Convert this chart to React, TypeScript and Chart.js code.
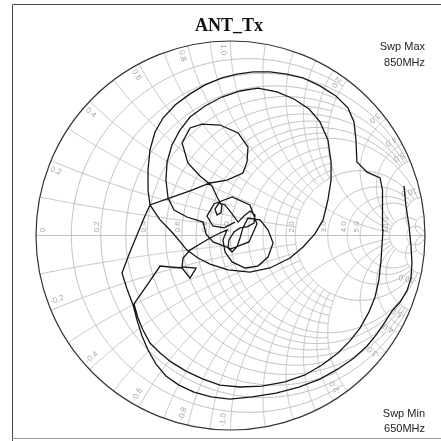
import { useEffect, useRef } from "react";
import { Chart, registerables } from "chart.js";

Chart.register(...registerables);

const chartTitle = "ANT_Tx";
const sweepMaxText = ["Swp Max", "850MHz"];
const sweepMinText = ["Swp Min", "650MHz"];

const gammaRe = [
  0.892, 0.902, 0.918, 0.928, 0.933, 0.928, 0.907, 0.872, 0.830, 0.794,
  0.753, 0.702, 0.635, 0.553, 0.460, 0.352, 0.234, 0.111, -0.003, -0.100,
  -0.188, -0.265, -0.332, -0.383, -0.424, -0.455, -0.481, -0.501, -0.532, -0.558,
  -0.517, -0.470, -0.440, -0.414, -0.311, -0.208, -0.105, -0.018, 0.064, 0.085,
  0.090, 0.039, -0.054, -0.147, -0.208, -0.249, -0.219, -0.157, -0.095,
  -0.069, -0.044, -0.049, -0.069, -0.080, -0.059, -0.028, 0.008, 0.039, 0.069,
  0.100, 0.126, 0.121, 0.085, 0.049, 0.018, -0.008, -0.013, 0.008, 0.033,
  0.049, 0.064,
  0.090, 0.152, 0.193, 0.219, 0.193, 0.141, 0.075, 0.008, -0.028, -0.039, -0.018,
  -0.054, -0.105, -0.157, -0.208, -0.244, -0.249, -0.177, -0.208, -0.249, -0.311, -0.362, -0.429, -0.496,
  -0.476, -0.450, -0.414, -0.362, -0.306, -0.229, -0.141, -0.054, 0.049, 0.162,
  0.280, 0.383, 0.470, 0.553, 0.614, 0.666, 0.712, 0.743, 0.763, 0.774,
  0.784, 0.784, 0.779, 0.769, 0.702, 0.650, 0.645, 0.635, 0.604, 0.542,
  0.460, 0.373, 0.290, 0.203, 0.116, 0.033, -0.044, -0.131, -0.208, -0.285,
  -0.347, -0.388, -0.414, -0.424, -0.424, -0.414,
  -0.362, -0.311, -0.275, -0.224, -0.167, -0.105, -0.013, 0.100, 0.203, 0.306,
  0.373, 0.434, 0.476, 0.501, 0.517, 0.517, 0.501, 0.460, 0.404, 0.326,
  0.239, 0.141, 0.049, -0.044, -0.131, -0.208, -0.260, -0.301, -0.326, -0.332,
  -0.321, -0.290, -0.224, -0.141,
  -0.126, -0.090, 0.003, 0.095, 0.136, 0.100, 0.008, -0.085, -0.121, -0.090, -0.033, 0.023,
];
const gammaIm = [
  0.255, 0.152, 0.049, -0.054, -0.141, -0.219, -0.285, -0.342, -0.388, -0.445,
  -0.506, -0.568, -0.630, -0.686, -0.738, -0.779, -0.810, -0.830, -0.841, -0.830,
  -0.805, -0.769, -0.722, -0.661, -0.589, -0.517, -0.434, -0.357, -0.275, -0.193,
  -0.085, 0.028, 0.100, 0.157, 0.193, 0.229, 0.270, 0.285, 0.321, 0.378,
  0.455, 0.527, 0.568, 0.573, 0.553, 0.476, 0.373, 0.306, 0.255,
  0.198, 0.152, 0.116, 0.105, 0.136, 0.167, 0.157, 0.111, 0.069, 0.100,
  0.126, 0.105, 0.064, 0.044, 0.039, 0.018, -0.023, -0.064, -0.085, -0.059,
  -0.013, 0.039,
  0.090, 0.080, 0.028, -0.039, -0.111, -0.157, -0.167, -0.136, -0.085, -0.023, 0.028,
  0.013, -0.013, -0.044, -0.075, -0.116, -0.162, -0.167, -0.219, -0.167, -0.162, -0.157, -0.255, -0.352,
  -0.424, -0.486, -0.553, -0.604, -0.650, -0.697, -0.738, -0.769, -0.779, -0.774,
  -0.753, -0.717, -0.666, -0.604, -0.542, -0.476, -0.393, -0.316, -0.229, -0.126,
  0.028, 0.157, 0.234, 0.296, 0.326, 0.378, 0.491, 0.584, 0.656, 0.717,
  0.769, 0.810, 0.830, 0.841, 0.841, 0.830, 0.810, 0.774, 0.728, 0.671,
  0.604, 0.532, 0.440, 0.337, 0.234, 0.157,
  0.080, 0.028, -0.013, -0.075, -0.116, -0.147, -0.177, -0.188, -0.167, -0.116,
  -0.059, 0.008, 0.080, 0.183, 0.285, 0.378, 0.491, 0.584, 0.650, 0.702,
  0.738, 0.758, 0.743, 0.712, 0.666, 0.609, 0.542, 0.465, 0.378, 0.285,
  0.193, 0.131, 0.095, 0.069,
  0.008, -0.033, -0.069, -0.033, 0.059, 0.157, 0.198, 0.162, 0.100, 0.049, 0.039, 0.069,
];

// Smith grid: [normalised value, extent of the other coordinate]
const resistanceGrid = [
  [0.1, 2], [0.2, 5], [0.3, 2], [0.4, 5], [0.5, 2], [0.6, 5], [0.7, 2], [0.8, 5], [0.9, 2],
  [1, 10], [1.2, 2], [1.4, 2], [1.6, 2], [1.8, 2], [2, 10], [3, 10], [4, 10], [5, 10],
  [10, 20], [20, Infinity],
];
const reactanceGrid = [
  [0.1, 1], [0.2, 2], [0.3, 1], [0.4, 2], [0.5, 1], [0.6, 2], [0.7, 1], [0.8, 2], [0.9, 1],
  [1, 10], [1.2, 2], [1.4, 2], [1.6, 2], [1.8, 2], [2, 10], [3, 10], [4, 10], [5, 10],
  [10, 20], [20, Infinity],
];
const resistanceLabels = [0, 0.2, 0.4, 0.6, 0.8, 1.0, 2.0, 3.0, 4.0, 5.0, 10.0];
const reactanceLabels = [0.2, 0.4, 0.6, 0.8, 1.0, 2.0, 3.0, 4.0, 5.0, 10.0];

function gammaOf(r: number, x: number) {
  const d = (r + 1) * (r + 1) + x * x;
  return [(r * r + x * x - 1) / d, (2 * x) / d];
}

const smithPlugin = {
  id: "smithGrid",
  beforeDraw(chart: any) {
    const ctx = chart.ctx;
    ctx.save();
    ctx.fillStyle = "#ffffff";
    ctx.fillRect(0, 0, chart.width, chart.height);
    ctx.lineWidth = 1;
    ctx.strokeStyle = "#4a4a4a";
    ctx.beginPath();
    ctx.moveTo(12.5, 441);
    ctx.lineTo(12.5, 4.5);
    ctx.lineTo(441, 4.5);
    ctx.stroke();
    ctx.strokeStyle = "#a0a0a0";
    ctx.beginPath();
    ctx.moveTo(12.5, 438.5);
    ctx.lineTo(441, 438.5);
    ctx.stroke();
    ctx.restore();
  },
  beforeDatasetsDraw(chart: any) {
    const ctx = chart.ctx;
    const sx = chart.scales.x;
    const sy = chart.scales.y;
    const P = (re: number, im: number) => [sx.getPixelForValue(re), sy.getPixelForValue(im)];
    const N = 260;
    ctx.save();
    ctx.strokeStyle = "#c2c2c2";
    ctx.lineWidth = 1;
    for (const [r, lim] of resistanceGrid) {
      const a = Math.atan(lim);
      ctx.beginPath();
      for (let i = 0; i <= N; i++) {
        const t = -a + (2 * a * i) / N;
        const [re, im] = gammaOf(r, Math.tan(t));
        const [px, py] = P(re, im);
        if (i === 0) ctx.moveTo(px, py);
        else ctx.lineTo(px, py);
      }
      ctx.stroke();
    }
    for (const [x, lim] of reactanceGrid) {
      for (const s of [1, -1]) {
        const a = Math.atan(lim);
        ctx.beginPath();
        for (let i = 0; i <= N; i++) {
          const t = (a * i) / N;
          const [re, im] = gammaOf(Math.tan(t), s * x);
          const [px, py] = P(re, im);
          if (i === 0) ctx.moveTo(px, py);
          else ctx.lineTo(px, py);
        }
        ctx.stroke();
      }
    }
    // real axis
    const [ax0, ay] = P(-1, 0);
    const [ax1] = P(1, 0);
    ctx.beginPath();
    ctx.moveTo(ax0, ay);
    ctx.lineTo(ax1, ay);
    ctx.stroke();

    // labels
    ctx.fillStyle = "#a6a6a6";
    ctx.font = "8px 'Liberation Sans', Arial, sans-serif";
    for (const r of resistanceLabels) {
      const [gx] = gammaOf(r, 0);
      const [px, py] = P(gx, 0);
      ctx.save();
      ctx.translate(r === 0 ? px + 8.5 : px - 1.5, py - 3);
      ctx.rotate(-Math.PI / 2);
      ctx.textAlign = "left";
      ctx.textBaseline = "alphabetic";
      ctx.fillText(r === 0 ? "0" : r.toFixed(1), 0, 0);
      ctx.restore();
    }
    const [cx, cy] = P(0, 0);
    const R = P(1, 0)[0] - cx;
    for (const x of reactanceLabels) {
      for (const s of [1, -1]) {
        const [gr, gi] = gammaOf(0, s * x);
        const th = Math.atan2(gi, gr) + s * 0.04;
        const px = cx + Math.cos(th) * R * 0.985;
        const py = cy - Math.sin(th) * R * 0.985;
        ctx.save();
        ctx.translate(px, py);
        ctx.rotate(Math.atan2(Math.sin(th), -Math.cos(th)));
        ctx.textAlign = "left";
        ctx.textBaseline = "middle";
        ctx.fillText((s < 0 ? "-" : "") + x.toFixed(1), 0, 0);
        ctx.restore();
      }
    }
    // outer circle
    ctx.strokeStyle = "#333333";
    ctx.lineWidth = 1.2;
    ctx.beginPath();
    ctx.arc(cx, cy, R, 0, Math.PI * 2);
    ctx.stroke();
    ctx.restore();
  },
  afterDraw(chart: any) {
    const ctx = chart.ctx;
    ctx.save();
    ctx.fillStyle = "#111111";
    ctx.font = "bold 18px 'Liberation Serif', 'Times New Roman', serif";
    ctx.textAlign = "center";
    ctx.textBaseline = "alphabetic";
    ctx.fillText(chartTitle, 229, 31);
    ctx.fillStyle = "#222222";
    ctx.font = "11px 'Liberation Sans', Arial, sans-serif";
    ctx.textAlign = "right";
    ctx.fillText(sweepMaxText[0], 425, 50);
    ctx.fillText(sweepMaxText[1], 425, 66);
    ctx.fillText(sweepMinText[0], 425, 416.5);
    ctx.fillText(sweepMinText[1], 425, 432);
    ctx.restore();
  },
};

export default function App() {
  const canvasRef = useRef<HTMLCanvasElement | null>(null);
  useEffect(() => {
    const canvas = canvasRef.current;
    if (!canvas) return;
    const points = gammaRe.map((re, i) => ({ x: re, y: gammaIm[i] }));
    const chart = new Chart(canvas, {
      type: "scatter",
      data: {
        datasets: [
          {
            label: "S11",
            data: points,
            showLine: true,
            pointRadius: 0,
            borderColor: "#161616",
            borderWidth: 1.3,
            tension: 0,
          },
        ],
      },
      options: {
        animation: false,
        responsive: false,
        devicePixelRatio: 1,
        layout: { padding: { left: 36, right: 16, top: 41, bottom: 11 } },
        scales: {
          x: { type: "linear", min: -1, max: 1, display: false },
          y: { type: "linear", min: -1, max: 1, display: false },
        },
        plugins: {
          legend: { display: false },
          tooltip: { enabled: false },
          title: { display: false },
        },
      },
      plugins: [smithPlugin],
    } as any);
    return () => chart.destroy();
  }, []);
  return (
    <div style={{ position: "fixed", left: 0, top: 0, width: 441, height: 441, background: "#fff" }}>
      <canvas ref={canvasRef} width={441} height={441} style={{ width: 441, height: 441, display: "block" }} />
    </div>
  );
}
